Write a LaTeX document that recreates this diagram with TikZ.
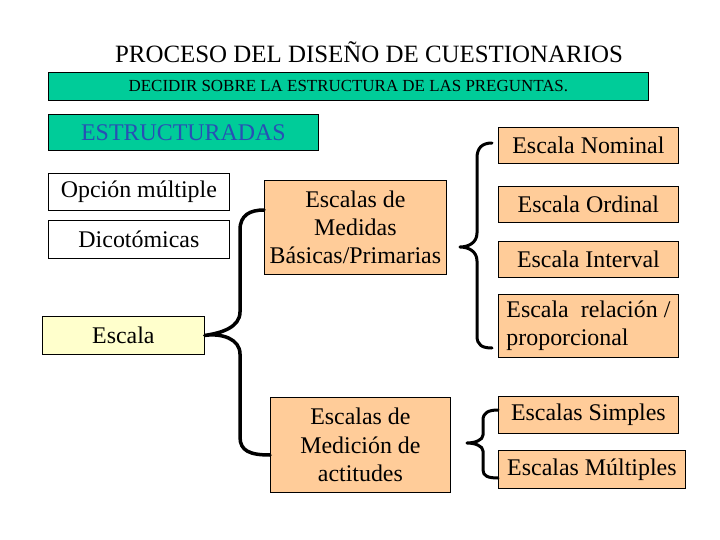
\documentclass[tikz,border=0pt]{standalone}
\usepackage{fontspec}
\setmainfont{Liberation Serif}
\definecolor{teal1}{RGB}{0,204,153}
\definecolor{peach}{RGB}{255,204,153}
\definecolor{lyellow}{RGB}{255,255,204}
\definecolor{tblue}{RGB}{40,80,180}
\tikzset{
  box/.style={draw, line width=0.8bp, inner sep=0pt, align=center, anchor=north west,
    font=\fontsize{24}{28}\selectfont},
  brace/.style={line width=3.5bp, line cap=round, line join=round},
  rbrace/.style={line width=3bp, line cap=round, line join=round},
}
\begin{document}
\begin{tikzpicture}[x=1bp,y=-1bp]
\useasboundingbox (0,0) rectangle (720,540);
\node[font=\fontsize{25}{28}\selectfont] (title) at (369,52) {PROCESO DEL DISEÑO DE CUESTIONARIOS};
\node[box, fill=teal1, minimum width=600bp, minimum height=28bp, font=\fontsize{17}{19}\selectfont] (dec) at (48,72) {DECIDIR SOBRE LA ESTRUCTURA DE LAS PREGUNTAS.};
\node[box, fill=teal1, minimum width=270bp, minimum height=36bp, text=tblue, font=\fontsize{24}{26}\selectfont] (estr) at (48,114) {ESTRUCTURADAS};
\node[box, minimum width=181bp, minimum height=37bp] (opc) at (48,173) {Opción múltiple};
\node[box, minimum width=181bp, minimum height=38bp] (dic) at (48,220) {Dicotómicas};
\node[box, fill=lyellow, minimum width=162bp, minimum height=38bp] (esc) at (42,316) {Escala};
\node[box, fill=peach, minimum width=182bp, minimum height=94bp] (basic) at (264,180) {Escalas de\\Medidas\\Básicas/Primarias};
\node[box, fill=peach, minimum width=180bp, minimum height=95bp, font=\fontsize{24}{29}\selectfont] (act) at (270,397) {Escalas de\\Medición de\\actitudes};
\node[box, fill=peach, minimum width=180bp, minimum height=36bp] (nom) at (498,127) {Escala Nominal};
\node[box, fill=peach, minimum width=180bp, minimum height=36bp] (ord) at (498,186) {Escala Ordinal};
\node[box, fill=peach, minimum width=180bp, minimum height=36bp] (int) at (498,241) {Escala Interval};
\node[box, fill=peach, minimum width=180bp, minimum height=63bp, align=left, font=\fontsize{24}{28}\selectfont] (rel) at (498,294) {Escala\ \ relación /\\proporcional};
\node[box, fill=peach, minimum width=180bp, minimum height=37bp] (sim) at (498,396) {Escalas Simples};
\node[box, fill=peach, minimum width=187bp, minimum height=38bp] (mul) at (498,450) {Escalas Múltiples};
% left brace
\coordinate (b1) at (basic.west |- 0,210);
\coordinate (b2) at (act.west |- 0,455);
\draw[brace] (b1) .. controls (250,210) and (240,215) .. (240,230) -- (240,312)
  .. controls (240,327) and (222,333) .. (esc.east)
  .. controls (222,333) and (240,339) .. (240,354) -- (240,437)
  .. controls (240,451) and (250,455) .. (b2);
% right brace 1
\coordinate (r1a) at (492,143);
\coordinate (r1t) at (460,247);
\coordinate (r1b) at (492,348);
\draw[rbrace] (r1a) .. controls (482,143) and (477,148) .. (477,158) -- (477,233)
  .. controls (477,243) and (468,247) .. (r1t)
  .. controls (468,247) and (477,251) .. (477,261) -- (477,336)
  .. controls (477,345) and (482,348) .. (r1b);
% right brace 2
\coordinate (r2a) at (498,410);
\coordinate (r2t) at (467,443);
\coordinate (r2b) at (498,478);
\draw[rbrace] (r2a) .. controls (488,410) and (483,413) .. (483,420) -- (483,435)
  .. controls (483,440) and (475,443) .. (r2t)
  .. controls (475,443) and (483,446) .. (483,451) -- (483,470)
  .. controls (483,476) and (488,478) .. (r2b);
\end{tikzpicture}
\end{document}
